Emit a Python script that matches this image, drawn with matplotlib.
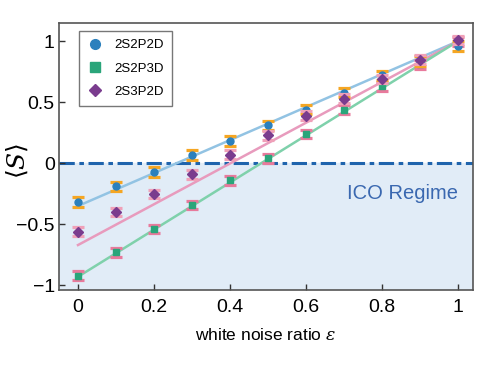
import matplotlib
matplotlib.use("Agg")
import matplotlib.pyplot as plt
from matplotlib.lines import Line2D

plt.rcParams["font.family"] = ["Liberation Sans", "DejaVu Sans"]
plt.rcParams["mathtext.fontset"] = "dejavuserif"

# Dados medidos
eps = [0, 0.1, 0.2, 0.3, 0.4, 0.5, 0.6, 0.7, 0.8, 0.9, 1.0]
s_2s2p2d = [-0.32, -0.19, -0.07, 0.07, 0.18, 0.31, 0.44, 0.58, 0.72, 0.84, 0.96]
s_2s2p3d = [-0.92, -0.73, -0.54, -0.34, -0.14, 0.04, 0.24, 0.44, 0.63, 0.81, 1.0]
s_2s3p2d = [-0.56, -0.40, -0.25, -0.09, 0.07, 0.23, 0.39, 0.53, 0.69, 0.85, 1.01]
err_2s2p2d = [0.04] * 11
err_2s2p3d = [0.035] * 11
err_2s3p2d = [0.035] * 11

# Curvas teoricas (retas)
theory_eps = [0, 1]
th_2s2p2d = [-0.35, 1.0]
th_2s2p3d = [-0.93, 1.0]
th_2s3p2d = [-0.67, 1.0]

fig = plt.figure(figsize=(5, 3.65), dpi=100)
ax = fig.add_axes([0.118, 0.205, 0.828, 0.732])

ax.set_xlim(-0.05, 1.04)
ax.set_ylim(-1.04, 1.15)

# Regiao ICO
ax.axhspan(-1.04, 0, color="#e1ecf7", zorder=0)
ax.axhline(0, color="#1f64ad", linestyle=(0, (5, 1.5, 1.5, 1.5)), linewidth=2.2, zorder=1)

# Retas teoricas
ax.plot(theory_eps, th_2s2p2d, color="#92c3e3", linewidth=1.8, zorder=2)
ax.plot(theory_eps, th_2s3p2d, color="#e89bbd", linewidth=1.8, zorder=2)
ax.plot(theory_eps, th_2s2p3d, color="#7fd1ab", linewidth=1.8, zorder=2)

# Pontos com barras de erro
kw = dict(elinewidth=1.5, capsize=4.3, capthick=2.3)
ax.errorbar(eps, s_2s2p3d, yerr=err_2s2p3d, fmt="s", color="#2aa57a", markersize=5,
            ecolor="#e87a9c", zorder=3, **kw)
ax.errorbar(eps, s_2s2p2d, yerr=err_2s2p2d, fmt="o", color="#2b80bd", markersize=5,
            ecolor="#f5a623", zorder=4, **kw)
ax.errorbar(eps, s_2s3p2d, yerr=err_2s3p2d, fmt="D", color="#7a3c8e", markersize=5,
            ecolor="#f0a0b8", zorder=5, **kw)

ax.text(1.0, -0.25, "ICO Regime", color="#3a68b0", fontsize=14.5, ha="right", va="center")

# Ajustes visuais
ax.set_xticks([0, 0.2, 0.4, 0.6, 0.8, 1.0])
ax.set_xticklabels(["0", "0.2", "0.4", "0.6", "0.8", "1"])
ax.set_yticks([-1, -0.5, 0, 0.5, 1])
ax.set_yticklabels(["\u22121", "\u22120.5", "0", "0.5", "1"])
ax.tick_params(direction="in", labelsize=14, length=4, width=1, colors="#333333", labelcolor="black")
ax.tick_params(axis="x", pad=6)
ax.tick_params(axis="y", pad=3)
ax.set_xlabel(r"white noise ratio $\varepsilon$", fontsize=12.5, labelpad=8)
ax.set_ylabel(r"$\langle S\rangle$", fontsize=18, va="center")
ax.yaxis.set_label_coords(-0.1, 0.483)
for s in ax.spines.values():
    s.set_color("#555555")
    s.set_linewidth(1.2)

leg_handles = [
    Line2D([], [], marker="o", color="#2b80bd", linestyle="none", markersize=7),
    Line2D([], [], marker="s", color="#2aa57a", linestyle="none", markersize=7),
    Line2D([], [], marker="D", color="#7a3c8e", linestyle="none", markersize=6),
]
leg = ax.legend(leg_handles, ["2S2P2D", "2S2P3D", "2S3P2D"], loc="upper left",
                bbox_to_anchor=(0.048, 0.97), fontsize=9.5, frameon=True, fancybox=False,
                edgecolor="#555555", handlelength=1.3, handletextpad=0.8,
                labelspacing=0.85, borderpad=0.6, borderaxespad=0)
leg.get_frame().set_linewidth(1.0)

fig.savefig("out.png", dpi=100)
plt.close(fig)
